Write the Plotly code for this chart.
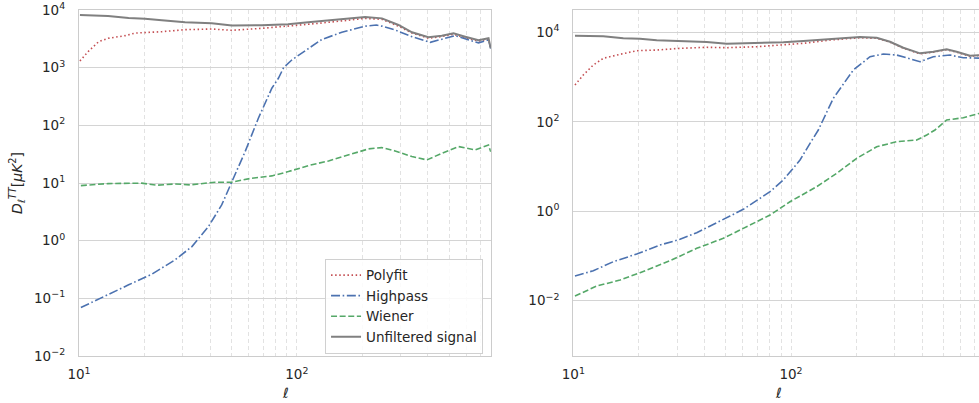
import plotly.graph_objects as go

# ---------------- left panel: first filter configuration ----------------
ell_poly_a = [10.1, 11.0, 12.3, 13.6, 16.3, 18.1, 24.0, 30.7, 40.7, 50.3, 69.1, 91.2, 112.7,
              150, 206, 246, 293, 338, 402, 463, 524, 593, 683, 759, 777]
dl_poly_a = [1306, 1892, 2818, 3228, 3589, 3981, 4207, 4560, 4677, 4446, 4808, 5212, 5649,
             6281, 7161, 6887, 5248, 3981, 3236, 3467, 3802, 3311, 2884, 3162, 2138]

ell_high_a = [10.2, 12.7, 16.9, 21.6, 27.6, 33.0, 39.3, 45.2, 50.3, 57.9, 66.6, 76.8, 82.3, 87,
              94.8, 113.1, 130.3, 161, 206, 232, 246, 283, 338, 410, 463, 534, 683, 759, 777]
dl_high_a = [0.0693, 0.1033, 0.1714, 0.2624, 0.4645, 0.7907, 1.758, 4.169, 10.57, 34.99, 132.7,
             439.5, 654.6, 1000, 1358, 2168, 3090, 4102, 5248, 5495, 5248, 4498, 3443, 2754,
             3090, 3589, 2692, 3020, 2138]

ell_wien_a = [10.2, 13.6, 19.4, 22.75, 27.6, 32.4, 42.1, 50.3, 62.1, 76.8, 91.5, 113.1, 139.8,
              178.9, 213.3, 245.7, 282.8, 337.6, 395.5, 463.4, 552.5, 659.2, 758.6, 777]
dl_wien_a = [9.02, 9.77, 9.93, 9.16, 9.64, 9.27, 10.33, 10.33, 12.11, 13.27, 15.78, 20.04, 24.15,
             31.92, 38.99, 41.11, 35.97, 28.71, 25.12, 32.81, 42.76, 37.5, 45.71, 34.67]

ell_sig_a = [10.1, 13.6, 16.9, 20.1, 24.0, 30.7, 40.7, 50.3, 69.1, 91.2, 112.7, 150, 179, 206,
             246, 293, 338, 402, 463, 524, 593, 683, 759, 777]
dl_sig_a = [8180, 7870, 7260, 7080, 6610, 6110, 5870, 5370, 5430, 5650, 6110, 6710, 7160, 7570,
            7160, 5500, 4100, 3370, 3590, 3940, 3440, 2980, 3240, 2170]

# ---------------- right panel: second filter configuration ----------------
ell_poly_b = [10.18, 11.11, 12.35, 13.73, 16.39, 19.55, 24.16, 30.91, 41.01, 50.66, 69.6, 92.2,
              113.9, 151.1, 207.5, 247.6, 285, 328, 391.4, 450.5, 519, 576.8, 664.1, 725.3, 778]
dl_poly_b = [664, 1109, 1858, 2624, 3221, 3882, 4018, 4385, 4624, 4529, 4764, 5200, 5675, 6730,
             7568, 7345, 6026, 4416, 3311, 3589, 4074, 3589, 2917, 3020, 3020]

ell_high_b = [10.18, 12.35, 15.27, 19.55, 25.02, 30.91, 36.88, 43.97, 52.46, 60.38, 69.6, 80.1,
              92.2, 110, 122.3, 133.5, 156.4, 193.3, 230.7, 265.5, 305.9, 352.1, 391.4, 450.5,
              537.5, 618.8, 725.3, 778]
dl_high_b = [0.03565, 0.04677, 0.07447, 0.1107, 0.1758, 0.2355, 0.3311, 0.5176, 0.7816, 1.104,
             1.782, 2.735, 4.989, 13.96, 32.96, 65.46, 334.2, 1436, 2851, 3273, 3105, 2529, 2203,
             2851, 3105, 2704, 2624, 2630]

ell_wien_b = [10.18, 12.81, 16.39, 20.25, 27.81, 36.88, 48.87, 62.6, 80.1, 98.9, 131.2, 162.2,
              200.3, 247.6, 305.9, 378, 420.2, 458.6, 519, 618.8, 725.3, 778]
dl_wien_b = [0.01274, 0.02128, 0.02897, 0.04227, 0.07834, 0.1483, 0.2483, 0.4508, 0.8222, 1.633,
             3.532, 7.047, 15.24, 27.67, 35.81, 39.08, 50.58, 65.46, 109.6, 123.3, 154.9, 166]

ell_sig_b = [10.18, 13.73, 16.97, 20.25, 24.16, 30.91, 41.01, 50.66, 69.6, 92.2, 113.9, 151.1,
             207.5, 247.6, 285, 328, 391.4, 450.5, 519, 576.8, 664.1, 725.3, 778]
dl_sig_b = [8395, 8128, 7345, 7194, 6622, 6397, 6067, 5559, 5675, 5970, 6397, 7079, 7852, 7568,
            6166, 4529, 3388, 3681, 4169, 3681, 2999, 3090, 3090]

# tick labels
x_ticks = [10, 100]
x_ticktext = ["10<sup>1</sup>", "10<sup>2</sup>"]
x_minor = [20, 30, 40, 50, 60, 70, 80, 90, 200, 300, 400, 500, 600, 700]
y_ticks_a = [1e-2, 1e-1, 1, 10, 100, 1e3, 1e4]
y_ticktext_a = ["10<sup>−2</sup>", "10<sup>−1</sup>", "10<sup>0</sup>", "10<sup>1</sup>",
                "10<sup>2</sup>", "10<sup>3</sup>", "10<sup>4</sup>"]
y_ticks_b = [1e-2, 1, 100, 1e4]
y_ticktext_b = ["10<sup>−2</sup>", "10<sup>0</sup>", "10<sup>2</sup>", "10<sup>4</sup>"]

RED, BLUE, GREEN, GREY = "#C44E52", "#4C72B0", "#55A868", "#808080"
FONT = "DejaVu Sans"
TXT = "#262626"

styles = [
    ("Polyfit", RED, "1.5px,2.6px", 1.6),
    ("Highpass", BLUE, "9px,2.6px,1.6px,2.6px", 1.6),
    ("Wiener", GREEN, "6px,2.6px", 1.6),
    ("Unfiltered signal", GREY, "solid", 2.0),
]

fig = go.Figure()

panel_a = [(ell_poly_a, dl_poly_a), (ell_high_a, dl_high_a), (ell_wien_a, dl_wien_a), (ell_sig_a, dl_sig_a)]
panel_b = [(ell_poly_b, dl_poly_b), (ell_high_b, dl_high_b), (ell_wien_b, dl_wien_b), (ell_sig_b, dl_sig_b)]

for (name, color, dash, width), (x, y) in zip(styles, panel_a):
    fig.add_trace(go.Scatter(x=x, y=y, mode="lines", name=name,
                             line=dict(color=color, dash=dash, width=width),
                             xaxis="x", yaxis="y", showlegend=True))
for (name, color, dash, width), (x, y) in zip(styles, panel_b):
    fig.add_trace(go.Scatter(x=x, y=y, mode="lines", name=name,
                             line=dict(color=color, dash=dash, width=width),
                             xaxis="x2", yaxis="y2", showlegend=False))

tickfont = dict(family=FONT, size=13.5, color=TXT)
spine = "#cccccc"
hgrid = "#d4d4d4"
vgrid = "#e2e2e2"

xcommon = dict(type="log", tickmode="array", tickvals=x_ticks, ticktext=x_ticktext,
               showgrid=True, gridcolor=vgrid, griddash="4px,3px", gridwidth=1,
               minor=dict(tickmode="array", tickvals=x_minor, showgrid=True,
                          gridcolor=vgrid, griddash="4px,3px", gridwidth=1, ticks=""),
               showline=True, linecolor=spine, linewidth=1.3, ticks="",
               tickfont=tickfont, ticklabelstandoff=6, zeroline=False, automargin=False)
ycommon = dict(type="log", showgrid=True, gridcolor=hgrid, gridwidth=1.1,
               showline=True, linecolor=spine, linewidth=1.3, ticks="",
               tickfont=tickfont, ticklabelstandoff=10, zeroline=False, automargin=False)

label_font = dict(family=FONT, size=14, color=TXT)

fig.update_layout(
    template="none",
    width=979, height=403,
    margin=dict(l=0, r=0, t=0, b=0, autoexpand=False),
    paper_bgcolor="white", plot_bgcolor="white",
    font=dict(family=FONT, color=TXT),
    xaxis=dict(domain=[0.0807, 0.5014], range=[1, 2.891], mirror=True, anchor="y", **xcommon),
    yaxis=dict(domain=[0.1166, 0.9752], range=[-2, 4], mirror=True, anchor="x",
               tickmode="array", tickvals=y_ticks_a, ticktext=y_ticktext_a, **ycommon),
    xaxis2=dict(domain=[0.5856, 1.0], range=[1, 2.8636], mirror=True, anchor="y2", **xcommon),
    yaxis2=dict(domain=[0.1166, 0.9752], range=[-3.236, 4.499], mirror=False, anchor="x2",
                tickmode="array", tickvals=y_ticks_b, ticktext=y_ticktext_b, **ycommon),
    legend=dict(x=0.4934, xanchor="right", y=0.122, yanchor="bottom",
                bgcolor="rgba(255,255,255,0.85)", bordercolor="#d0d0d0", borderwidth=1,
                font=dict(family=FONT, size=13.5, color=TXT), tracegroupgap=0),
    annotations=[
        dict(text="<i>ℓ</i>", x=285 / 979, y=10 / 403, xref="paper", yref="paper",
             xanchor="center", yanchor="middle", showarrow=False, font=label_font),
        dict(text="<i>ℓ</i>", x=778 / 979, y=10 / 403, xref="paper", yref="paper",
             xanchor="center", yanchor="middle", showarrow=False, font=label_font),
        dict(text="<i>D</i><sub><i>ℓ</i></sub><sup><i>TT</i></sup>[<i>μK</i><sup>2</sup>]",
             x=17 / 979, y=220 / 403, xref="paper", yref="paper", textangle=-90,
             xanchor="center", yanchor="middle", showarrow=False, font=label_font),
    ],
)

fig.write_html("out.html")
